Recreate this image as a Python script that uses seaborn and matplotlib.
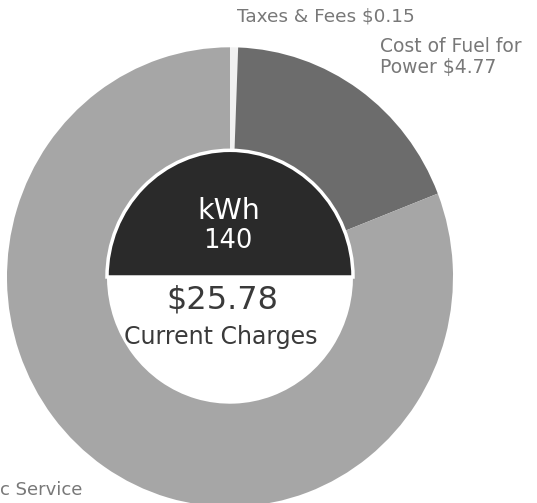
import matplotlib
matplotlib.use("Agg")
import matplotlib.pyplot as plt
from matplotlib.patches import Wedge
import seaborn as sns

# bill breakdown
charge_names = ["Taxes & Fees", "Cost of Fuel for Power", "c Service"]
charge_amounts = [0.15, 4.77, 20.86]
slice_colors = ["#f1f1f1", "#6c6c6c", "#a6a6a6"]
total_charges = 25.78
kwh_used = 140

sns.set_theme(style="white")
plt.rcParams['font.family'] = ['DejaVu Sans']

W, H = 537, 503
fig = plt.figure(figsize=(W / 100, H / 100), dpi=100)
ax = fig.add_axes([0, 0, 1, 1])

# scan is a touch taller than wide
stretch = 1.03
cx, cy_px = 230, 277
cy = (H - cy_px) / stretch
R_out, R_in = 223, 123

ax.pie(charge_amounts, colors=slice_colors, startangle=90, counterclock=False,
       radius=R_out, center=(cx, cy),
       wedgeprops=dict(width=R_out - R_in, linewidth=0))

# center hole: dark top half with kWh, white bottom half with total
ax.add_patch(Wedge((cx, cy), R_in, 0, 180, facecolor="#2a2a2a",
                   edgecolor="white", linewidth=2.5, zorder=3))

ax.set_aspect("auto")
ax.set_xlim(0, W)
ax.set_ylim(0, H / stretch)
ax.axis("off")

def px(x, y):
    return x / W, 1 - y / H

ax.text(*px(229, 211), "kWh", transform=ax.transAxes, ha="center", va="center",
        color="white", fontsize=20.5)
ax.text(*px(228, 241), str(kwh_used), transform=ax.transAxes, ha="center", va="center",
        color="white", fontsize=18.5)
ax.text(*px(222, 300), f"${total_charges:.2f}", transform=ax.transAxes, ha="center",
        va="center", color="#3a3a3a", fontsize=23)
ax.text(*px(221, 337), "Current Charges", transform=ax.transAxes, ha="center",
        va="center", color="#3a3a3a", fontsize=17)

lab_col = "#787878"
ax.text(*px(237, 16), f"{charge_names[0]} ${charge_amounts[0]:.2f}", transform=ax.transAxes,
        ha="left", va="center", color=lab_col, fontsize=13.3)
ax.text(*px(380, 46), "Cost of Fuel for", transform=ax.transAxes,
        ha="left", va="center", color=lab_col, fontsize=13.5)
ax.text(*px(380, 68), f"Power ${charge_amounts[1]:.2f}", transform=ax.transAxes,
        ha="left", va="center", color=lab_col, fontsize=13.5)
ax.text(*px(0, 490), charge_names[2], transform=ax.transAxes,
        ha="left", va="center", color=lab_col, fontsize=13)

fig.savefig("out.png", dpi=100, facecolor="white")
